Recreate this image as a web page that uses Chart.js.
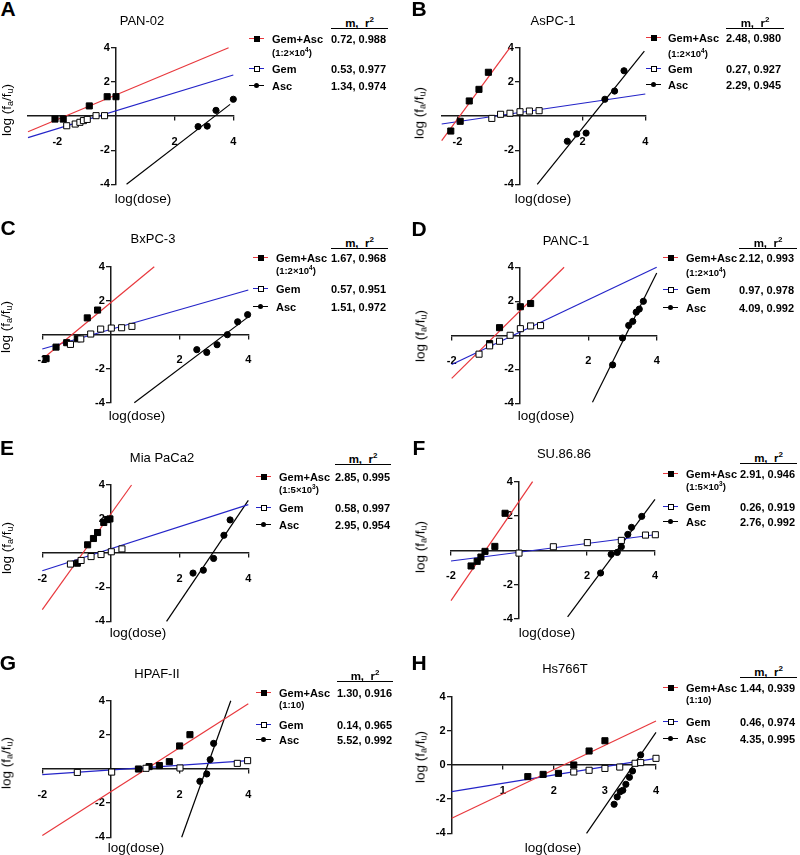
<!DOCTYPE html>
<html><head><meta charset="utf-8">
<script src="https://cdn.jsdelivr.net/npm/chart.js@4.4.1/dist/chart.umd.min.js"></script>
<style>
body{margin:0;background:#fff;}
#fig{position:relative;width:800px;height:855px;overflow:hidden;font-family:"Liberation Sans",Arial,sans-serif;color:#000;background:#fff;}
.abs{position:absolute;white-space:nowrap;line-height:1;}
.c{transform:translate(-50%,-50%);}
.l{transform:translateY(-50%);}
.letter{font-weight:bold;font-size:21px;}
.title{font-size:13px;}
.xl{font-size:13.5px;}
.yl{font-size:13.5px;transform:translate(-50%,-50%) rotate(-90deg);}
.yl sub{font-size:9px;vertical-align:-2px;}
.lg{font-weight:bold;font-size:11px;}
.sub{font-weight:bold;font-size:9.5px;}
.sub sup{font-size:6.5px;vertical-align:4px;}
.hdr{font-weight:bold;font-size:11.5px;text-align:center;}
.hdr sup{font-size:8px;vertical-align:5px;}
.uline{position:absolute;height:0;border-top:1px solid #000;}
canvas{position:absolute;}
</style>
</head><body><div id="fig"></div>
<script>
// ---------------- DATA ----------------
const cellNames = ['PAN-02','AsPC-1','BxPC-3','PANC-1','Mia PaCa2','SU.86.86','HPAF-II','Hs766T'];
const panelLetters = ['A','B','C','D','E','F','G','H'];
const seriesNames = ['Gem+Asc','Gem','Asc'];
const ratioBase = ['1:2×10','1:2×10','1:2×10','1:2×10','1:5×10','1:5×10','1:10','1:10'];
const ratioExp = ['4','4','4','4','3','3','',''];
const mCombo = ['0.72','2.48','1.67','2.12','2.85','2.91','1.30','1.44'];
const r2Combo = ['0.988','0.980','0.968','0.993','0.995','0.946','0.916','0.939'];
const mGem = ['0.53','0.27','0.57','0.97','0.58','0.26','0.14','0.46'];
const r2Gem = ['0.977','0.927','0.951','0.978','0.997','0.919','0.965','0.974'];
const mAsc = ['1.34','2.29','1.51','4.09','2.95','2.76','5.52','4.35'];
const r2Asc = ['0.974','0.945','0.972','0.992','0.954','0.992','0.992','0.995'];

const yTicksStd = [-4,-2,2,4];
const yTicksH = [-4,-2,0,2,4];
const xTicksStd = [-2,2,4];
const xTicksH = [1,2,3,4];
const xRangeA = [-3,4], xRangeB = [-2.5,4], xRangeStd = [-2,4], xRangeH = [0,4];

// Panel A  PAN-02
const A_combo = [[-2.08,-0.18],[-1.8,-0.18],[-0.91,0.59],[-0.3,1.13],[0,1.13]];
const A_gem = [[-1.68,-0.57],[-1.39,-0.47],[-1.23,-0.37],[-1.11,-0.27],[-0.98,-0.2],[-0.68,0.02],[-0.39,0.02]];
const A_asc = [[2.8,-0.62],[3.11,-0.59],[3.41,0.33],[4.0,0.98]];
const A_fitCombo = [[-3,-0.92],[3.84,4.0]];
const A_fitGem = [[-3,-1.27],[4,2.4]];
const A_fitAsc = [[0.36,-4],[3.89,0.68]];
// Panel B  AsPC-1
const B_combo = [[-2.21,-0.88],[-1.91,-0.31],[-1.62,0.88],[-1.31,1.56],[-1.01,2.56]];
const B_gem = [[-0.9,-0.14],[-0.62,0.1],[-0.32,0.16],[0,0.25],[0.3,0.29],[0.61,0.31]];
const B_asc = [[1.51,-1.48],[1.81,-1.05],[2.11,-1.0],[2.71,0.98],[3.02,1.46],[3.32,2.65]];
const B_fitCombo = [[-2.5,-1.44],[-0.32,4]];
const B_fitGem = [[-2.5,-0.47],[4,1.29]];
const B_fitAsc = [[0.55,-4],[3.97,3.8]];
// Panel C  BxPC-3
const C_combo = [[-1.89,-1.41],[-1.6,-0.73],[-1.29,-0.47],[-0.98,-0.24],[-0.69,0.99],[-0.39,1.45]];
const C_gem = [[-1.18,-0.57],[-0.88,-0.25],[-0.59,0.04],[-0.3,0.33],[0.01,0.39],[0.31,0.41],[0.61,0.49]];
const C_asc = [[2.5,-0.88],[2.79,-1.04],[3.09,-0.59],[3.39,0],[3.69,0.76],[3.98,1.18]];
const C_fitCombo = [[-1.89,-1.25],[1.26,4]];
const C_fitGem = [[-2,-0.84],[4,2.63]];
const C_fitAsc = [[0.68,-4],[3.98,1.02]];
// Panel D  PANC-1
const D_combo = [[-0.89,-0.49],[-0.6,0.45],[0.01,1.68],[0.31,1.87]];
const D_gem = [[-1.2,-1.11],[-0.89,-0.62],[-0.6,-0.35],[-0.29,0],[0.01,0.39],[0.31,0.55],[0.6,0.57]];
const D_asc = [[2.71,-1.74],[3.0,-0.16],[3.18,0.58],[3.3,0.82],[3.4,1.36],[3.49,1.54],[3.61,2.0]];
const D_fitCombo = [[-2,-2.53],[1.29,4]];
const D_fitGem = [[-2,-1.72],[4,4]];
const D_fitAsc = [[2.12,-3.94],[4,3.66]];
// Panel E  Mia PaCa2
const E_combo = [[-0.98,-0.59],[-0.68,0.49],[-0.51,0.86],[-0.39,1.21],[-0.21,1.8],[-0.11,1.97],[-0.03,2.01]];
const E_gem = [[-1.18,-0.64],[-0.87,-0.43],[-0.58,-0.2],[-0.29,-0.08],[0.01,0.08],[0.32,0.25]];
const E_asc = [[2.39,-1.17],[2.69,-1.0],[2.99,-0.31],[3.29,1.05],[3.47,1.95]];
const E_fitCombo = [[-2,-3.32],[0.6,4]];
const E_fitGem = [[-2,-1.03],[4,2.85]];
const E_fitAsc = [[1.62,-4],[4,3.1]];
// Panel F  SU.86.86
const F_combo = [[-1.41,-0.91],[-1.23,-0.64],[-1.12,-0.39],[-1.0,-0.06],[-0.71,0.23],[-0.41,2.16]];
const F_gem = [[0,-0.16],[1.01,0.21],[2.01,0.45],[3.01,0.58],[3.72,0.89],[4.01,0.91]];
const F_asc = [[2.4,-1.32],[2.71,-0.23],[2.89,-0.12],[3.01,0.21],[3.2,0.93],[3.31,1.34],[3.61,1.98]];
const F_fitCombo = [[-2,-2.93],[0.4,4]];
const F_fitGem = [[-2,-0.62],[4,0.91]];
const F_fitAsc = [[1.43,-3.88],[4,2.97]];
// Panel G  HPAF-II
const G_combo = [[0.8,0],[1.11,0.14],[1.41,0.2],[1.7,0.43],[2.0,1.35],[2.3,2.01]];
const G_gem = [[-0.98,-0.2],[0.02,-0.18],[1.02,0.04],[2.01,0.06],[3.68,0.33],[3.98,0.49]];
const G_asc = [[2.59,-0.72],[2.79,-0.29],[2.89,0.55],[2.99,1.5]];
const G_fitCombo = [[-2,-3.9],[4,3.82]];
const G_fitGem = [[-2,-0.33],[4,0.49]];
const G_fitAsc = [[2.06,-4],[3.49,4]];
// Panel H  Hs766T
const H_combo = [[1.49,-0.68],[1.79,-0.55],[2.09,-0.49],[2.39,0],[2.69,0.82],[3.0,1.42]];
const H_gem = [[2.39,-0.41],[2.69,-0.31],[3.0,-0.2],[3.29,-0.12],[3.59,0.1],[3.7,0.14],[4.0,0.39]];
const H_asc = [[3.18,-2.3],[3.24,-1.87],[3.3,-1.56],[3.35,-1.48],[3.41,-1.13],[3.48,-0.72],[3.54,-0.35],[3.7,0.59]];
const H_fitCombo = [[0,-3.12],[4,2.58]];
const H_fitGem = [[0,-1.56],[4,0.39]];
const H_fitAsc = [[2.64,-4],[4,1.91]];

// ---------------- LAYOUT / STYLE ----------------
const RED = '#e8383d', BLUE = '#2424c8', BLACK = '#000', AXIS = '#1a1a1a';
const FONT = '"Liberation Sans", Arial, sans-serif';

const panels = [
  {rect:[28,47.7,233.3,184.3], xr:xRangeA, xt:xTicksStd, yt:yTicksStd, d:[A_combo,A_gem,A_asc,A_fitCombo,A_fitGem,A_fitAsc],
   letter:[8,8], title:[142,20], xl:[143,199], yl:[7,110],
   lg:{mk:249, tx:272, vx:331, vr:388, ul:28, r1:39, sb:52, r2:69, r3:86}},
  {rect:[441.7,47.7,645.3,184.3], xr:xRangeB, xt:xTicksStd, yt:yTicksStd, d:[B_combo,B_gem,B_asc,B_fitCombo,B_fitGem,B_fitAsc],
   letter:[419,8], title:[553,20], xl:[543,199], yl:[420,113],
   lg:{mk:646, tx:668, vx:726, vr:784, ul:28, r1:38, sb:53, r2:69, r3:85}},
  {rect:[42.3,266.7,248.3,402.7], xr:xRangeStd, xt:xTicksStd, yt:yTicksStd, d:[C_combo,C_gem,C_asc,C_fitCombo,C_fitGem,C_fitAsc],
   letter:[8,227], title:[153,238], xl:[137,416], yl:[6,327],
   lg:{mk:253, tx:276, vx:331, vr:388, ul:248, r1:258, sb:270, r2:289, r3:307}},
  {rect:[451.7,267.3,656.7,403.3], xr:xRangeStd, xt:xTicksStd, yt:yTicksStd, d:[D_combo,D_gem,D_asc,D_fitCombo,D_fitGem,D_fitAsc],
   letter:[419,228], title:[566,240], xl:[546,416], yl:[421,336],
   lg:{mk:663, tx:686, vx:739, vr:797, ul:248, r1:258, sb:272, r2:290, r3:308}},
  {rect:[42.3,485,248.3,621.3], xr:xRangeStd, xt:xTicksStd, yt:yTicksStd, d:[E_combo,E_gem,E_asc,E_fitCombo,E_fitGem,E_fitAsc],
   letter:[7,447], title:[162,457], xl:[138,633], yl:[7,548],
   lg:{mk:256, tx:279, vx:335, vr:391, ul:464, r1:477, sb:489, r2:508, r3:525}},
  {rect:[451,481.7,655,619], xr:xRangeStd, xt:xTicksStd, yt:yTicksStd, d:[F_combo,F_gem,F_asc,F_fitCombo,F_fitGem,F_fitAsc],
   letter:[419,447], title:[564,453], xl:[547,633], yl:[421,547],
   lg:{mk:663, tx:686, vx:740, vr:797, ul:463, r1:474, sb:486, r2:507, r3:522}},
  {rect:[42.3,700.7,248.3,837.3], xr:xRangeStd, xt:xTicksStd, yt:yTicksStd, d:[G_combo,G_gem,G_asc,G_fitCombo,G_fitGem,G_fitAsc],
   letter:[8,662], title:[157,673], xl:[136,848], yl:[7,763],
   lg:{mk:256, tx:279, vx:337, vr:393, ul:681, r1:693, sb:705, r2:725, r3:740}},
  {rect:[451.7,696.7,656,833.3], xr:xRangeH, xt:xTicksH, yt:yTicksH, d:[H_combo,H_gem,H_asc,H_fitCombo,H_fitGem,H_fitAsc],
   letter:[419,662], title:[565,668], xl:[553,848], yl:[421,757],
   lg:{mk:663, tx:686, vx:740, vr:797, ul:677, r1:688, sb:700, r2:722, r3:739}},
];

const fig = document.getElementById('fig');
function txt(html, cls, x, y) {
  const d = document.createElement('div');
  d.className = 'abs ' + cls;
  d.style.left = x + 'px'; d.style.top = y + 'px';
  d.innerHTML = html;
  fig.appendChild(d);
  return d;
}
function marker(x, y, lineColor, kind) {
  const d = document.createElement('div');
  d.style.cssText = `position:absolute;left:${x}px;top:${y-0.6}px;width:15px;height:0;border-top:1.3px solid ${lineColor};`;
  const s = document.createElement('div');
  const sz = kind === 'circle' ? 5 : 6;
  s.style.cssText = `position:absolute;left:${7.5 - sz/2}px;top:${-sz/2 - 0.6}px;width:${sz}px;height:${sz}px;box-sizing:border-box;` +
    (kind === 'open' ? 'background:#fff;border:1px solid #000;' : 'background:#000;') + (kind === 'circle' ? 'border-radius:50%;' : '');
  d.appendChild(s);
  fig.appendChild(d);
}
const toXY = arr => arr.map(([x, y]) => ({x, y}));
const fitDs = (d, c) => ({data: toXY(d), showLine: true, borderColor: c, borderWidth: 1.2, pointRadius: 0, fill: false, order: 5, clip: false});
const ptDs = (d, style, bg, r) => ({data: toXY(d), showLine: false, pointStyle: style, pointRadius: r, backgroundColor: bg, borderColor: '#000', borderWidth: 1, order: 1, clip: false});

panels.forEach((p, i) => {
  const [L, T, R, B] = p.rect;
  const cl = Math.floor(L) - 30, ct = Math.floor(T) - 20;
  const W = Math.ceil(R) - cl + 30, H = Math.ceil(B) - ct + 40;
  const cv = document.createElement('canvas');
  cv.width = W; cv.height = H;
  cv.style.left = cl + 'px'; cv.style.top = ct + 'px';
  cv.style.width = W + 'px'; cv.style.height = H + 'px';
  fig.appendChild(cv);
  const [combo, gem, asc, fc, fg, fa] = p.d;
  const tickFont = {family: FONT, size: 11, weight: 'bold'};
  new Chart(cv, {
    type: 'scatter',
    data: {datasets: [
      fitDs(fc, RED), fitDs(fg, BLUE), fitDs(fa, BLACK),
      ptDs(asc, 'circle', '#000', 3.1),
      ptDs(gem, 'rect', '#fff', 4.3),
      ptDs(combo, 'rect', '#000', 4.3),
    ]},
    options: {
      responsive: false, animation: false, events: [],
      layout: {padding: {left: L - cl, top: T - ct, right: cl + W - R, bottom: ct + H - B}},
      plugins: {legend: {display: false}, tooltip: {enabled: false}},
      scales: {
        x: {type: 'linear', axis: 'x', min: p.xr[0], max: p.xr[1], position: {y: 0},
            afterBuildTicks: s => { s.ticks = p.xt.map(v => ({value: v})); },
            ticks: {font: tickFont, color: '#000', padding: 15, autoSkip: false, maxRotation: 0, minRotation: 0, callback: v => String(v)},
            grid: {display: true, drawOnChartArea: false, drawTicks: true, tickLength: 4, color: AXIS, lineWidth: 1.3},
            border: {display: true, color: AXIS, width: 1.5}},
        y: {type: 'linear', axis: 'y', min: -4, max: 4, position: {x: 0},
            afterBuildTicks: s => { s.ticks = p.yt.map(v => ({value: v})); },
            ticks: {font: tickFont, color: '#000', padding: 2, autoSkip: false, callback: v => String(v) + '  '},
            grid: {display: true, drawOnChartArea: false, drawTicks: true, tickLength: 4, color: AXIS, lineWidth: 1.3},
            border: {display: true, color: AXIS, width: 1.5}},
      }
    }
  });

  txt(panelLetters[i], 'letter c', p.letter[0], p.letter[1]);
  txt(cellNames[i], 'title c', p.title[0], p.title[1]);
  txt('log(dose)', 'xl c', p.xl[0], p.xl[1]);
  txt('log (f<sub>a</sub>/f<sub>u</sub>)', 'yl', p.yl[0], p.yl[1]);

  const g = p.lg;
  const hw = g.vr - g.vx;
  const hd = txt('m,&nbsp; r<sup>2</sup>', 'hdr', g.vx, g.ul - 12);
  hd.style.width = hw + 'px';
  const ul = document.createElement('div');
  ul.className = 'uline'; ul.style.left = g.vx + 'px'; ul.style.top = g.ul + 'px'; ul.style.width = hw + 'px';
  fig.appendChild(ul);
  marker(g.mk, g.r1, RED, 'filled');
  txt(seriesNames[0], 'lg l', g.tx, g.r1);
  txt(mCombo[i] + ', ' + r2Combo[i], 'lg l', g.vx, g.r1);
  txt('(' + ratioBase[i] + (ratioExp[i] ? '<sup>' + ratioExp[i] + '</sup>' : '') + ')', 'sub l', g.tx, g.sb);
  marker(g.mk, g.r2, BLUE, 'open');
  txt(seriesNames[1], 'lg l', g.tx, g.r2);
  txt(mGem[i] + ', ' + r2Gem[i], 'lg l', g.vx, g.r2);
  marker(g.mk, g.r3, BLACK, 'circle');
  txt(seriesNames[2], 'lg l', g.tx, g.r3);
  txt(mAsc[i] + ', ' + r2Asc[i], 'lg l', g.vx, g.r3);
});
</script>
</body></html>
